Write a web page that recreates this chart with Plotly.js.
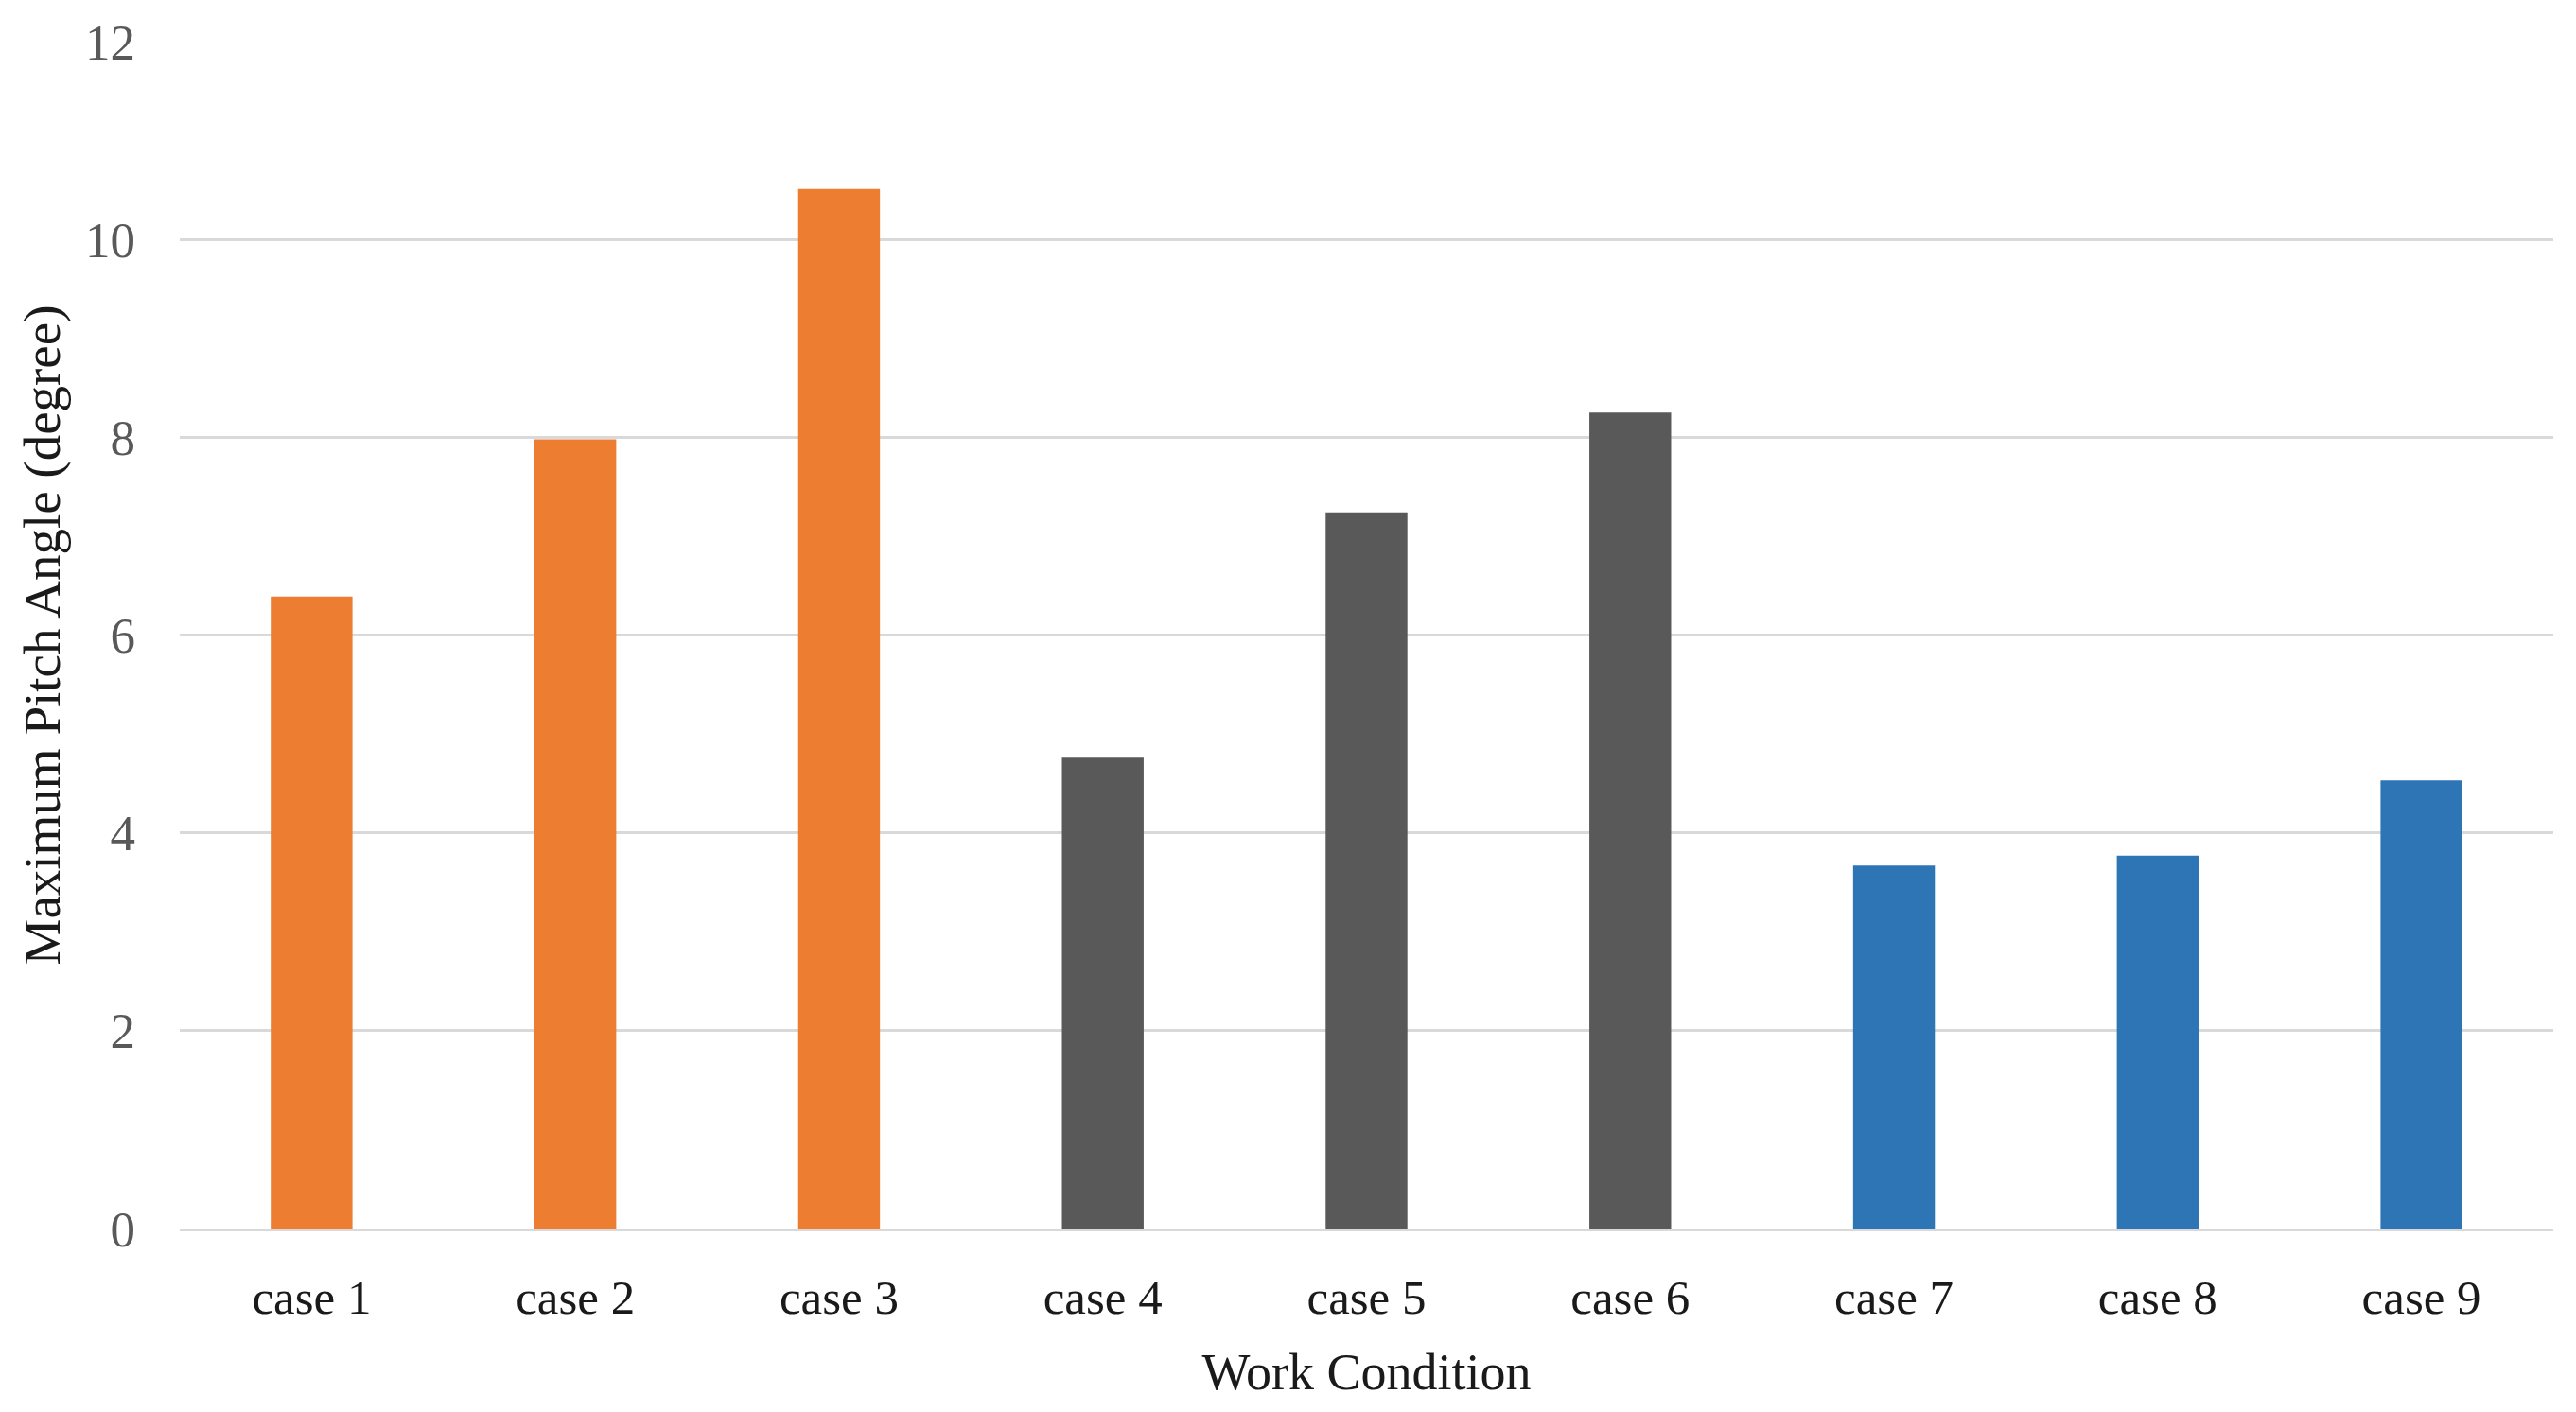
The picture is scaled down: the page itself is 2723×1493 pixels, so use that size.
<!DOCTYPE html>
<html>
<head>
<meta charset="utf-8">
<script src="https://cdn.plot.ly/plotly-3.0.1.min.js"></script>
<style>html,body{margin:0;padding:0;background:#fff;}#chart{width:2723px;height:1493px;}</style>
</head>
<body>
<div id="chart"></div>
<script>
const categories = ['case 1','case 2','case 3','case 4','case 5','case 6','case 7','case 8','case 9'];
const pitchAngle = [6.39, 7.98, 10.51, 4.77, 7.24, 8.25, 3.67, 3.77, 4.53];
const groups = ['A','A','A','B','B','B','C','C','C'];
const yTicks = [0, 2, 4, 6, 8, 10, 12];

const groupColors = {A: '#ED7D31', B: '#595959', C: '#2E75B6'};

const trace = {
  type: 'bar',
  x: categories,
  y: pitchAngle,
  marker: {color: groups.map(g => groupColors[g])},
  hoverinfo: 'x+y'
};

const serif = '"Liberation Serif", "DejaVu Serif", serif';

const layout = {
  width: 2723, height: 1493,
  paper_bgcolor: '#ffffff', plot_bgcolor: '#ffffff',
  margin: {l: 190, r: 24, t: 44, b: 194},
  showlegend: false,
  bargap: 0.69,
  xaxis: {
    type: 'category',
    showgrid: false,
    showline: true, linecolor: '#D9D9D9', linewidth: 3,
    ticks: '',
    ticklabelstandoff: 26,
    tickfont: {family: serif, size: 51, color: '#1a1a1a'},
    title: {text: 'Work Condition', font: {family: serif, size: 54, color: '#1a1a1a'}, standoff: 32},
    automargin: false
  },
  yaxis: {
    range: [0, 12],
    tickvals: yTicks,
    ticktext: yTicks.map(String),
    showgrid: true, gridcolor: '#D9D9D9', gridwidth: 3,
    zeroline: false,
    showline: false,
    ticks: '',
    ticklabelstandoff: 46,
    tickfont: {family: serif, size: 53, color: '#595959'},
    title: {text: 'Maximum Pitch Angle (degree)', font: {family: serif, size: 55, color: '#1a1a1a'}, standoff: 8},
    automargin: false
  }
};

Plotly.newPlot('chart', [trace], layout, {displayModeBar: false, staticPlot: true});
</script>
</body>
</html>
